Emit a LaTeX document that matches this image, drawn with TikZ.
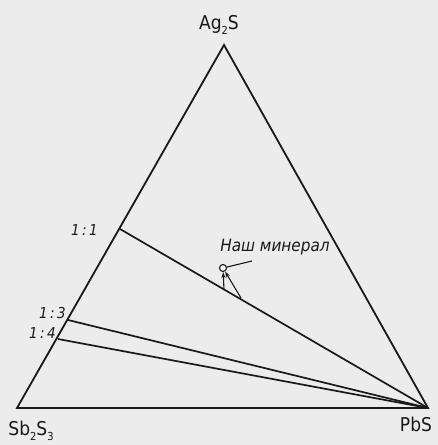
\documentclass[tikz,border=0pt]{standalone}
\usepackage{fontspec}
\setmainfont{DejaVu Sans Condensed}
\usetikzlibrary{arrows.meta}
\definecolor{bg}{RGB}{236,236,236}
\definecolor{ink}{RGB}{25,25,25}
\newcommand{\lowsub}[1]{\raisebox{-0.5ex}{\fontsize{11}{11}\selectfont #1}}
\begin{document}
\begin{tikzpicture}[x=1pt,y=-1pt,
  edge/.style={draw=ink,line width=1.8pt,line join=miter},
  tie/.style={draw=ink,line width=1.7pt},
  formula/.style={text=ink,font=\fontsize{19}{19}\selectfont,inner sep=0pt},
  ratio/.style={text=ink,font=\fontsize{15}{15}\selectfont\itshape,inner sep=0pt,anchor=east},
  pointer/.style={draw=ink,line width=1.1pt,-{Stealth[length=6pt,width=4pt]}},
  ]
\fill[bg] (0,0) rectangle (438,445);
\useasboundingbox (0,0) rectangle (438,445);
% vertices
\coordinate (A) at (224,45);
\coordinate (B) at (17,408);
\coordinate (C) at (428,408);
\coordinate (P11) at (120,229);
\coordinate (P13) at (68,320);
\coordinate (P14) at (58,339);
\coordinate (T1) at (224,290);
\coordinate (T2) at (241,298);
\coordinate (L) at (252,261);
% triangle
\draw[edge] (A) -- (B) -- (C) -- cycle;
% tie lines
\draw[tie] (P11) -- (C);
\draw[tie] (P13) -- (C);
\draw[tie] (P14) -- (C);
% mineral point
\node[circle,draw=ink,line width=1.1pt,fill=white,minimum size=7pt,inner sep=0pt] (M) at (223,268) {};
\draw[pointer] (T1) -- (M);
\draw[pointer] (T2) -- (M);
\draw[draw=ink,line width=1.1pt] (M) -- (L);
% labels
\node[formula] (la) at (219,25) {Ag\lowsub{2}S};
\node[formula] (lb) at (31,431) {Sb\lowsub{2}S\lowsub{3}};
\node[formula] (lc) at (416,424) {PbS};
\node[ratio] (r11) at (98,230) {1\,:\,1};
\node[ratio] (r13) at (66,313) {1\,:\,3};
\node[ratio] (r14) at (56,333) {1\,:\,4};
\node[text=ink,font=\fontsize{17}{17}\selectfont\itshape,inner sep=0pt] (lm) at (275,247) {Наш минерал};
\end{tikzpicture}
\end{document}
